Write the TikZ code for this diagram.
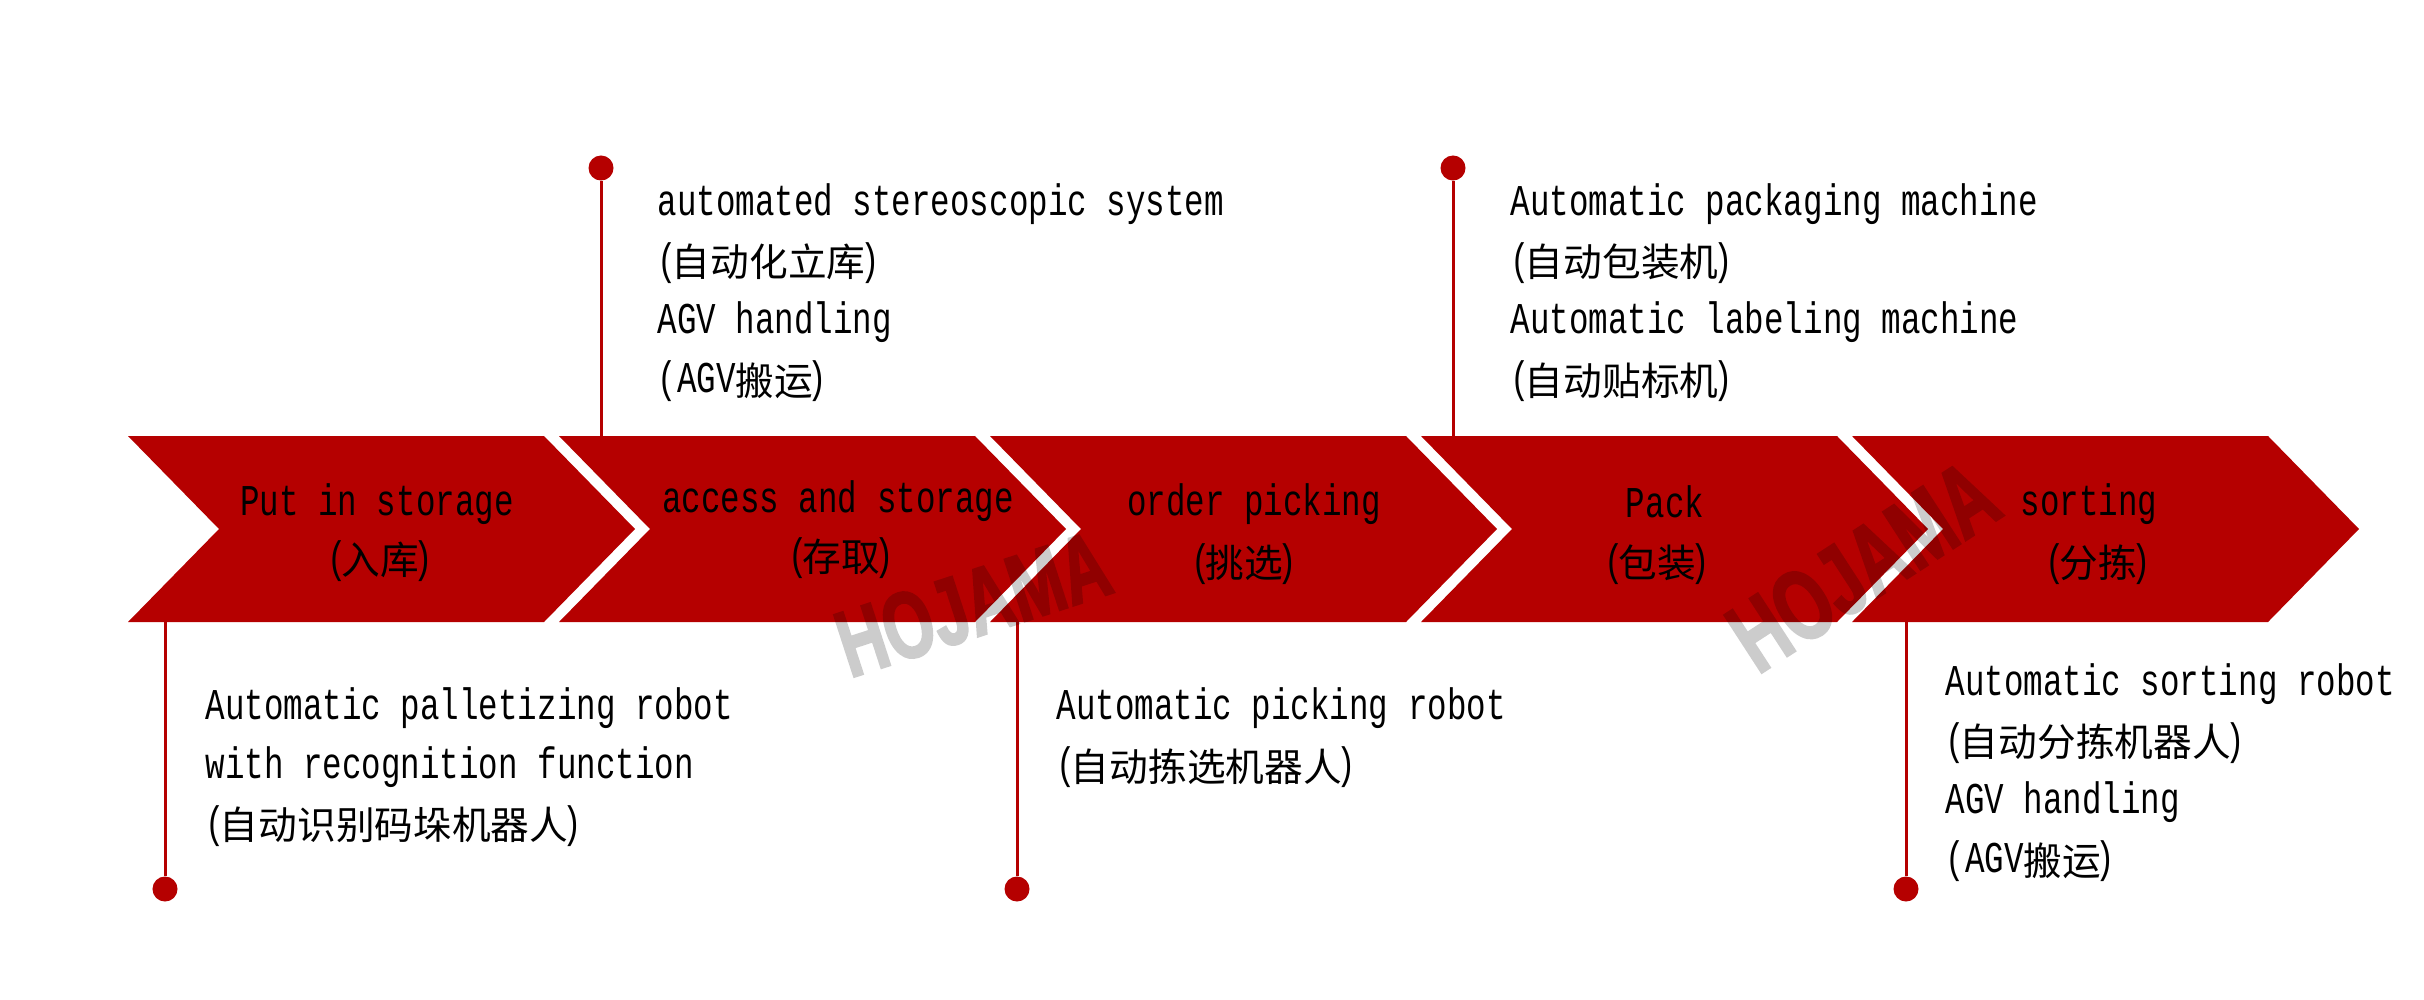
\documentclass[tikz,border=0pt]{standalone}
\usepackage{fontspec}
\setmonofont[FakeStretch=0.74]{Liberation Mono}
\newfontfamily\cjk{Noto Sans CJK SC}
\newfontfamily\markfont[FakeStretch=0.68,FakeBold=2]{Liberation Sans Bold}
\newcommand{\zh}[1]{{\cjk\fontsize{11}{16.8}\selectfont\raisebox{-0.1ex}{#1}}\kern-1.5pt}
\newcommand{\zp}[1]{\kern-1.5pt\zh{#1}}
\definecolor{chevred}{HTML}{B50000}

\begin{document}
\begin{tikzpicture}
        [
        x=0.01cm,y=-0.01cm,
        chevron/.style={fill=chevred},
        dot/.style={circle,fill=chevred,inner sep=0pt,minimum size=0.25cm},
        stem/.style={draw=chevred,line width=0.03cm},
        label/.style={font=\fontsize{12.5}{16.8}\selectfont\ttfamily,inner sep=0pt,align=center},
        note/.style={label,align=left,anchor=west},
        wmark/.style={text=black,inner sep=0pt,font=\markfont}
        ]
    \useasboundingbox (0,0) rectangle (2424,1000);
    \foreach \x in {128,559,990,1421}
        \fill[chevron] (\x,436) -- ++(416,0) -- ++(91,93) -- ++(-91,93) -- ++(-416,0) -- ++(91,-93) -- cycle;
    \fill[chevron] (1852,436) -- ++(416,0) -- ++(91,93) -- ++(-91,93) -- ++(-416,0) -- ++(91,-93) -- cycle;
    \node[label] (in1) at (377,504) {Put in storage};
    \node[label] (in2) at (380,561) {(\zp{入库})};
    \node[label] (acc1) at (838,501) {access and storage};
    \node[label] (acc2) at (841,558) {(\zp{存取})};
    \node[label] (ord1) at (1254,504) {order picking};
    \node[label] (ord2) at (1244,564) {(\zp{挑选})};
    \node[label] (pack1) at (1665,502) {Pack};
    \node[label] (pack2) at (1657,564) {(\zp{包装})};
    \node[label] (sort1) at (2089,504) {sorting};
    \node[label] (sort2) at (2098,564) {(\zp{分拣})};
    \node[note] (n1) at (657,293) {automated stereoscopic system\\(\zp{自动化立库})\\AGV handling\\(AGV\zh{搬运})};
    \node[note] (n2) at (1510,293) {Automatic packaging machine\\(\zp{自动包装机})\\Automatic labeling machine\\(\zp{自动贴标机})};
    \node[note] (n3) at (205,767) {Automatic palletizing robot\\with recognition function\\(\zp{自动识别码垛机器人})};
    \node[note] (n4) at (1056,738) {Automatic picking robot\\(\zp{自动拣选机器人})};
    \node[note] (n5) at (1945,773) {Automatic sorting robot\\(\zp{自动分拣机器人})\\AGV handling\\(AGV\zh{搬运})};
    \node[dot] (d1) at (601,168) {};
    \node[dot] (d2) at (1453,168) {};
    \node[dot] (d3) at (165,889) {};
    \node[dot] (d4) at (1017,889) {};
    \node[dot] (d5) at (1906,889) {};
    \coordinate (c1) at (601,436);
    \coordinate (c2) at (1453,436);
    \coordinate (c3) at (165,622);
    \coordinate (c4) at (1017,622);
    \coordinate (c5) at (1906,622);
    \draw[stem] (d1) -- (c1);
    \draw[stem] (d2) -- (c2);
    \draw[stem] (d3) -- (c3);
    \draw[stem] (d4) -- (c4);
    \draw[stem] (d5) -- (c5);
    \begin{scope}[transparency group,opacity=0.2]
    \node[wmark,rotate=18] (w1) at (973,604) {\fontsize{27}{27}\selectfont HOJAMA};
    \node[wmark,rotate=33] (w2) at (1863,566) {\fontsize{28.5}{28.5}\selectfont HOJAMA};
    \end{scope}
    \end{tikzpicture}
\end{document}
